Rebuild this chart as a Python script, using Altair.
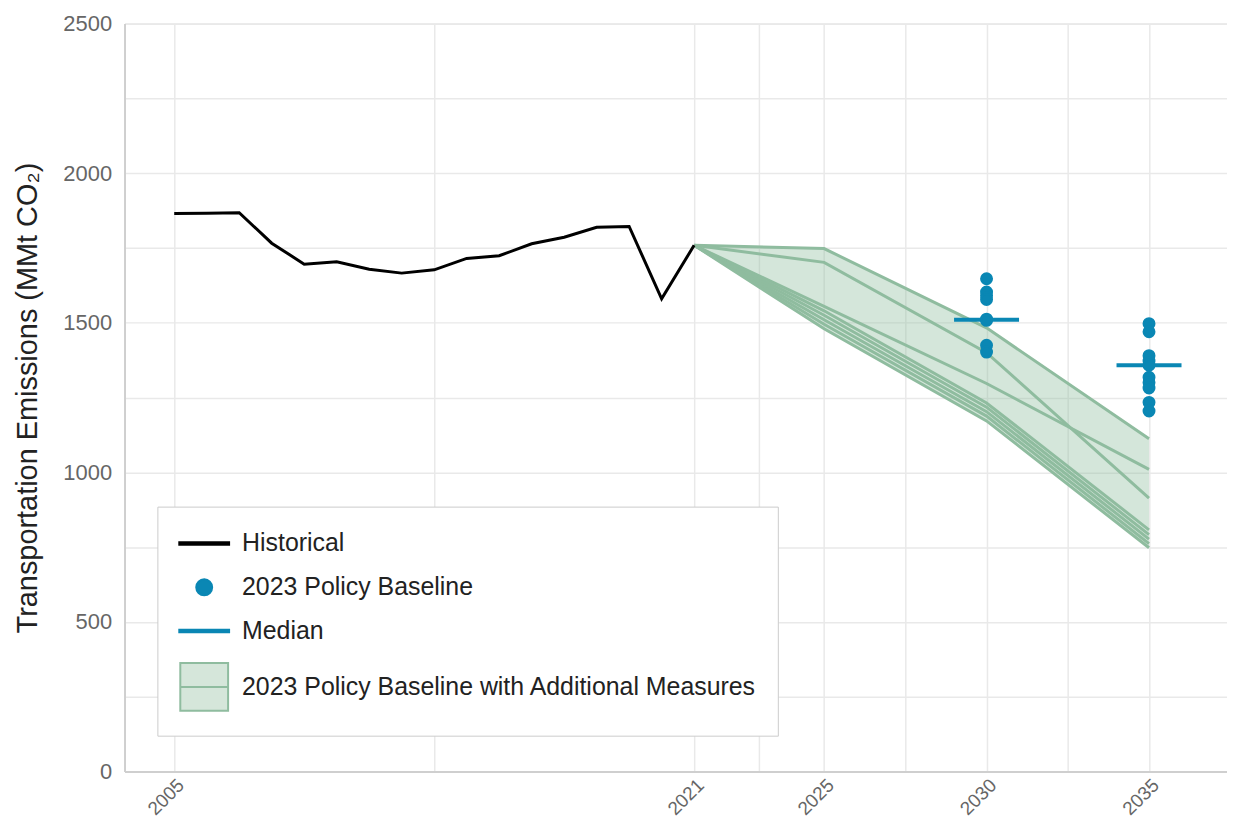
import altair as alt
import pandas as pd

# ---------------- data ----------------
hist_years = list(range(2005, 2022))
hist_values = [1865, 1866, 1868, 1766, 1696, 1704, 1679, 1666, 1677, 1715,
               1724, 1764, 1786, 1819, 1822, 1580, 1759]

proj_years = [2021, 2025, 2030, 2035]
scenario_a = [1759, 1748, 1483, 1112]
scenario_b = [1759, 1702, 1400, 914]
scenario_c = [1759, 1555, 1297, 1010]
scenario_d = [1759, 1540, 1232, 808]
scenario_e = [1759, 1525, 1218, 792]
scenario_f = [1759, 1510, 1203, 777]
scenario_g = [1759, 1495, 1188, 762]
scenario_h = [1759, 1480, 1172, 748]

baseline_2030 = [1647, 1603, 1591, 1578, 1512, 1508, 1425, 1402]
baseline_2035 = [1497, 1470, 1390, 1372, 1358, 1318, 1300, 1282, 1234, 1205]

median_years = [2030, 2035]
median_values = [1510, 1358]

x_grid_values = [2005, 2013, 2021, 2023, 2025, 2027.5, 2030, 2032.5, 2035]
x_label_values = [2005, 2021, 2025, 2030, 2035]
y_grid_values = list(range(0, 2501, 250))

series_names = ["Historical", "2023 Policy Baseline", "Median",
                "2023 Policy Baseline with Additional Measures"]

# ---------------- styles ----------------
BLACK = "#000000"
BLUE = "#0a87b4"
GREEN_LINE = "#8fbc9f"
GREEN_FILL = "#d5e6da"
FONT = "Liberation Sans"
MEDIAN_HALF_WIDTH = 1.0

line_path = "M-1.6667,-0.0833H1.6667V0.0833H-1.6667Z"
circle_path = "M0.5333,0A0.5333,0.5333,0,1,1,-0.5333,0A0.5333,0.5333,0,1,1,0.5333,0Z"
box_path = "M-1.6,-1.6H1.6V1.6H-1.6Z M-1.6,0H1.6"

# ---------------- tables ----------------
hist_df = pd.DataFrame({"year": hist_years, "value": hist_values})

scenarios = {"a": scenario_a, "b": scenario_b, "c": scenario_c, "d": scenario_d,
             "e": scenario_e, "f": scenario_f, "g": scenario_g, "h": scenario_h}
scen_rows = []
for name, vals in scenarios.items():
    for yr, v in zip(proj_years, vals):
        scen_rows.append({"scenario": name, "year": yr, "value": v})
scen_df = pd.DataFrame(scen_rows)
band_df = scen_df.groupby("year")["value"].agg(lo="min", hi="max").reset_index()

dot_rows = [{"year": 2030, "value": v, "series": series_names[1]} for v in baseline_2030]
dot_rows += [{"year": 2035, "value": v, "series": series_names[1]} for v in baseline_2035]
dots_df = pd.DataFrame(dot_rows)

med_df = pd.DataFrame({"year": median_years, "value": median_values})
med_df["x_start"] = med_df["year"] - MEDIAN_HALF_WIDTH
med_df["x_end"] = med_df["year"] + MEDIAN_HALF_WIDTH

# ---------------- scales & axes ----------------
x_scale = alt.Scale(domain=[2003.47, 2037.4], nice=False, zero=False)
y_scale = alt.Scale(domain=[0, 2500], nice=False)

label_list = ",".join(str(v) for v in x_label_values)
x_axis = alt.Axis(values=x_grid_values, title=None, format="d",
                  labelExpr=f"indexof([{label_list}], datum.value) >= 0 ? datum.label : ''",
                  labelAngle=315, labelAlign="right", labelBaseline="top",
                  labelPadding=4, labelFontSize=19, labelFont=FONT, labelColor="#666666",
                  labelOverlap=False, labelFlush=False,
                  ticks=False, grid=True, gridColor="#e9e9e9", gridWidth=1.5,
                  domainColor="#cfcfcf", domainWidth=2)
y_axis = alt.Axis(values=y_grid_values, format="d",
                  title="Transportation Emissions (MMt CO₂)",
                  labelExpr="datum.value % 500 == 0 ? datum.label : ''",
                  labelPadding=13, labelFontSize=22, labelFont=FONT, labelColor="#666666",
                  labelOverlap=False,
                  titleFont=FONT, titleFontSize=29, titleFontWeight="normal",
                  titleColor="#222222", titlePadding=20,
                  ticks=False, grid=True, gridColor="#e9e9e9", gridWidth=1.5,
                  domainColor="#cfcfcf", domainWidth=2)


def xq(field):
    return alt.X(f"{field}:Q", scale=x_scale, axis=x_axis)


def yq(field):
    return alt.Y(f"{field}:Q", scale=y_scale, axis=y_axis)


legend = alt.Legend(title=None, orient="none", legendX=33, legendY=485,
                    padding=21, fillColor="white", strokeColor="#cccccc",
                    labelFont=FONT, labelFontSize=25, labelColor="#222222",
                    labelLimit=700, labelOffset=22, symbolSize=900,
                    symbolStrokeWidth=2, rowPadding=15, symbolOffset=10,
                    gridAlign="none")

# ---------------- layers ----------------
band = alt.Chart(band_df).mark_area(color=GREEN_LINE, opacity=0.38).encode(
    x=xq("year"), y=yq("lo"), y2="hi:Q")

scen_lines = alt.Chart(scen_df).mark_line(color=GREEN_LINE, strokeWidth=3).encode(
    x=xq("year"), y=yq("value"), detail="scenario:N")

hist_line = alt.Chart(hist_df).mark_line(color=BLACK, strokeWidth=3).encode(
    x=xq("year"), y=yq("value"))

medians = alt.Chart(med_df).mark_rule(color=BLUE, strokeWidth=4).encode(
    x=xq("x_start"), x2="x_end:Q", y=yq("value"))

dots = alt.Chart(dots_df).mark_point(filled=True, size=425, opacity=1).encode(
    x=xq("year"), y=yq("value"),
    fill=alt.Fill("series:N", scale=alt.Scale(domain=series_names,
                                              range=[BLACK, BLUE, BLUE, GREEN_FILL]),
                  legend=legend),
    stroke=alt.Stroke("series:N", scale=alt.Scale(domain=series_names,
                                                  range=[BLACK, BLUE, BLUE, GREEN_LINE]),
                      legend=legend),
    shape=alt.Shape("series:N", scale=alt.Scale(domain=series_names,
                                                range=[line_path, circle_path, line_path, box_path]),
                    legend=legend),
)

chart = alt.layer(band, scen_lines, hist_line, medians, dots).properties(
    width=1107, height=751,
    autosize=alt.AutoSizeParams(type="none"),
    padding={"left": 117, "top": 14, "right": 0, "bottom": 48},
).configure_view(strokeWidth=0).configure(font=FONT)

chart.save("out.html", embed_options={"renderer": "svg", "actions": False})
